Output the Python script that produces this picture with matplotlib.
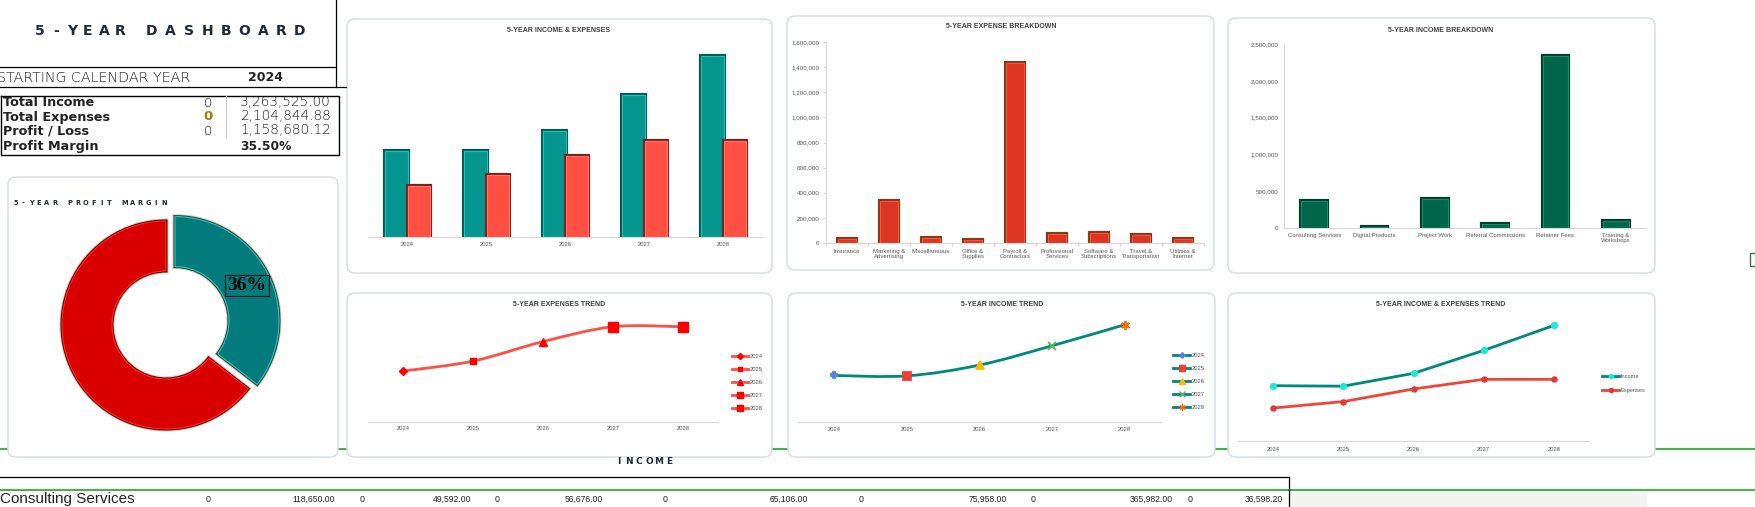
import matplotlib
matplotlib.use('Agg')
import matplotlib.pyplot as plt
import matplotlib.patheffects as pe
from matplotlib.patches import FancyBboxPatch, PathPatch
from matplotlib.lines import Line2D
from matplotlib.path import Path
from matplotlib.ticker import FuncFormatter
import numpy as np

# ---------------- data ----------------
years = ['2024', '2025', '2026', '2027', '2028']
income_by_year = [470000, 466000, 575000, 770000, 982525]
expenses_by_year = [280000, 335000, 442000, 524000, 523844.88]

expense_categories = ['Insurance', 'Marketing &\nAdvertising', 'Miscellaneous', 'Office &\nSupplies',
                      'Payroll &\nContractors', 'Professional\nServices', 'Software &\nSubscriptions',
                      'Travel &\nTransportation', 'Utilities &\nInternet']
expense_totals = [30000, 335000, 38000, 22000, 1435000, 70000, 78000, 64000, 32844.88]

income_categories = ['Consulting Services', 'Digital Products', 'Project Work',
                     'Referral Commissions', 'Retainer Fees', 'Training &\nWorkshops']
income_totals = [365982, 8500, 400000, 55000, 2333043, 101000]

summary_labels = ['Total Income', 'Total Expenses', 'Profit / Loss']
summary_values = [3263525.00, 2104844.88, 1158680.12]
summary_flags = [0, 0, 0]
start_year = 2024

table_row_label = 'Consulting Services'
table_next_label = 'Digital Products'
table_row_values = [118650.00, 49592.00, 56676.00, 65106.00, 75958.00, 365982.00, 36598.20]
table_row_flags = [0, 0, 0, 0, 0, 0, 0]

profit_margin = summary_values[2] / summary_values[0]

# ---------------- figure ----------------
W, H, DPI = 1755, 507, 100
fig = plt.figure(figsize=(W / DPI, H / DPI), dpi=DPI)
fig.patch.set_facecolor('white')

bg = fig.add_axes([0, 0, 1, 1], zorder=0)
bg.set_xlim(0, W)
bg.set_ylim(H, 0)
bg.axis('off')


def px_axes(x0, y0, x1, y1, z=2):
    ax = fig.add_axes([x0 / W, 1 - y1 / H, (x1 - x0) / W, (y1 - y0) / H], zorder=z)
    ax.set_facecolor('none')
    return ax


TITLE_C = '#404040'
TICK_C = '#595959'
AXIS_C = '#D9D9D9'
SANS = ['Liberation Sans', 'DejaVu Sans']

# green sheet lines
bg.plot([0, W], [449, 449], color='#4CAF50', lw=1.5, zorder=0)
bg.plot([0, W], [490, 490], color='#4CAF50', lw=1.5, zorder=0)
# green selection bracket at right edge
bg.plot([1755, 1750, 1750, 1755], [253, 253, 266, 266], color='#2E7D32', lw=1.0)

# panels
panels = [(347, 19, 772, 273), (787, 16, 1214, 270), (1228, 18, 1655, 273),
          (347, 293, 772, 457), (788, 293, 1215, 457), (1228, 293, 1655, 457),
          (8, 177, 338, 457)]
for (x0, y0, x1, y1) in panels:
    bg.add_patch(FancyBboxPatch((x0, y0), x1 - x0, y1 - y0,
                                boxstyle='round,pad=0,rounding_size=8',
                                fc='white', ec='#D5DCE6', lw=1.0, zorder=1))


def spaced(s, x_centers, y, **kw):
    for ch, xc in zip(s, x_centers):
        bg.text(xc, y, ch, ha='center', va='center', **kw)


# ---------------- top-left header ----------------
NAVY = '#1F2937'
part1 = '5-YEAR'
part2 = 'DASHBOARD'
spaced(part1, [40 + i * 16 for i in range(len(part1))], 31,
       fontsize=10, fontweight='bold', color=NAVY, family='DejaVu Sans')
spaced(part2, [152 + i * 18.5 for i in range(len(part2))], 31,
       fontsize=10, fontweight='bold', color=NAVY, family='DejaVu Sans')

bg.plot([336, 336], [0, 87], color='black', lw=0.9)
bg.plot([0, 336], [67, 67], color='black', lw=0.9)
bg.plot([0, 346], [87, 87], color='black', lw=0.9)

clipax = px_axes(0, 67, 192, 87, z=3)
clipax.set_xlim(0, 192)
clipax.set_ylim(87, 67)
clipax.axis('off')
clipax.text(-3, 77.5, 'STARTING CALENDAR YEAR', ha='left', va='center', fontsize=10.3,
            fontweight='light', color='#1A1A1A', family='DejaVu Sans', clip_on=True)
bg.text(266, 77.5, str(start_year), ha='center', va='center', fontsize=9,
        fontweight='bold', color='#222222', family='DejaVu Sans')

# summary box
bg.plot([1, 339, 339, 1, 1], [96, 96, 155, 155, 96], color='black', lw=1.0)
bg.plot([226, 226], [96, 138], color='#CCCCCC', lw=0.8)
row_y = [103, 117, 131]
for lab, val, flag, y, i in zip(summary_labels, summary_values, summary_flags, row_y, range(3)):
    bg.text(3, y, lab, ha='left', va='center', fontsize=9.2, fontweight='bold',
            color='#222222', family='DejaVu Sans')
    if i == 1:
        bg.text(208, y, str(flag), ha='center', va='center', fontsize=9.5, fontweight='bold',
                color='#A87B00', family='DejaVu Sans')
    else:
        bg.text(208, y, str(flag), ha='center', va='center', fontsize=9.5, fontweight='light',
                color='#1A1A1A', family='DejaVu Sans')
    bg.text(331, y - 0.5, f'{val:,.2f}', ha='right', va='center', fontsize=9.8,
            fontweight='light', color='#1A1A1A', family='DejaVu Sans')
bg.text(3, 146.5, 'Profit Margin', ha='left', va='center', fontsize=9.2, fontweight='bold',
        color='#222222', family='DejaVu Sans')
bg.text(266, 146, f'{profit_margin * 100:.2f}%', ha='center', va='center', fontsize=8.8,
        fontweight='bold', color='#222222', family='DejaVu Sans')

# ---------------- donut ----------------
pm_title = '5-YEAR PROFIT MARGIN'
spaced(pm_title, [15.5 + i * 7.8 for i in range(len(pm_title))], 203,
       fontsize=4.8, fontweight='bold', color=NAVY, family='DejaVu Sans')

CX, CY, R, WID, EXPL = 166, 325, 104, 50, 10
dax = px_axes(CX - 125, CY - 125, CX + 125, CY + 125, z=3)
wedges, _ = dax.pie([summary_values[2], summary_values[1]], radius=R, startangle=90,
                    counterclock=False, explode=[EXPL, 0], colors=['#037B7C', '#DB0000'],
                    wedgeprops=dict(width=WID, edgecolor='#38BDBD', linewidth=0.8))
wedges[1].set_edgecolor('#FF2A2A')
wedges[0].set_path_effects([pe.Stroke(linewidth=3.6, foreground='#D8CCB2'),
                            pe.Stroke(linewidth=2.2, foreground='#1E4A40'), pe.Normal()])
wedges[1].set_path_effects([pe.Stroke(linewidth=3.6, foreground='#D8CCB2'),
                            pe.Stroke(linewidth=2.2, foreground='#5A0000'), pe.Normal()])
dax.set_xlim(-125, 125)
dax.set_ylim(-125, 125)
dax.set_aspect('equal')
ang = np.deg2rad(90 - profit_margin * 180)
rl = R - WID / 2 + EXPL + 1
dax.text(rl * np.cos(ang), rl * np.sin(ang), f'{profit_margin * 100:.0f}%',
         ha='center', va='center', fontsize=14, fontweight='bold', color='black',
         family=['Liberation Serif', 'DejaVu Serif'],
         bbox=dict(boxstyle='square,pad=0.12', fc='none', ec='#1A1A1A', lw=0.8))


# ---------------- helpers ----------------
def style_axes(ax, left=False):
    for s in ['top', 'right', 'left']:
        ax.spines[s].set_visible(False)
    ax.spines['bottom'].set_color(AXIS_C)
    ax.spines['bottom'].set_linewidth(0.8)
    if left:
        ax.spines['left'].set_visible(True)
        ax.spines['left'].set_color(AXIS_C)
        ax.spines['left'].set_linewidth(0.8)
    else:
        ax.set_yticks([])
    ax.tick_params(axis='x', length=0, colors=TICK_C, labelsize=4.2)
    for lab in ax.get_xticklabels():
        lab.set_family(SANS)


def bevel(bars, dark, outer=3.0):
    for b in bars:
        b.set_path_effects([pe.Stroke(linewidth=outer, foreground=dark), pe.Normal()])


def smooth_path(xs, ys):
    pts = np.column_stack([xs, ys]).astype(float)
    n = len(pts)
    verts = [pts[0]]
    codes = [Path.MOVETO]
    for i in range(n - 1):
        p0 = pts[i - 1] if i > 0 else pts[i]
        p1, p2 = pts[i], pts[i + 1]
        p3 = pts[i + 2] if i + 2 < n else pts[i + 1]
        verts += [p1 + (p2 - p0) / 6, p2 - (p3 - p1) / 6, p2]
        codes += [Path.CURVE4] * 3
    return Path(verts, codes)


def px_legend(ax, handles, labels, x_left, y_top, fs, handle_px, row_px):
    fpx = fs * DPI / 72
    leg = ax.legend(handles, labels, loc='upper left',
                    bbox_to_anchor=(x_left / W, 1 - y_top / H), bbox_transform=fig.transFigure,
                    frameon=False, fontsize=fs, handlelength=handle_px / fpx,
                    handletextpad=0.25, labelspacing=(row_px - fpx * 1.15) / fpx,
                    borderpad=0, borderaxespad=0)
    for t in leg.get_texts():
        t.set_color(TICK_C)
        t.set_family(SANS)
    return leg


def title(x, y, s):
    bg.text(x, y, s, ha='center', va='center', fontsize=5.0, fontweight='bold',
            color=TITLE_C, family=SANS, zorder=3)


money = FuncFormatter(lambda v, p: f'{v:,.0f}')

# ---------------- chart 1: income & expenses bars ----------------
title(559, 30, '5-YEAR INCOME & EXPENSES')
s1 = 5440
ax1 = px_axes(368, 237 - 1100000 / s1, 763, 237)
ax1.set_ylim(0, 1100000)
ax1.set_xlim(-0.5, 4.5)
xi = np.arange(len(years))
bw = 0.285
b_inc = ax1.bar(xi - bw / 2, income_by_year, bw, color='#05968F', edgecolor='#27C0B8', linewidth=0.8)
b_exp = ax1.bar(xi + bw / 2, expenses_by_year, bw, color='#FF5043', edgecolor='#FF7468', linewidth=0.8)
bevel(b_inc, '#045B56')
bevel(b_exp, '#7A231B')
ax1.set_xticks(xi)
ax1.set_xticklabels(years)
style_axes(ax1)
ax1.tick_params(axis='x', pad=3.5)

# ---------------- chart 2: expense breakdown ----------------
title(1001, 27, '5-YEAR EXPENSE BREAKDOWN')
ax2 = px_axes(826, 42, 1204, 243)
ax2.set_ylim(0, 1600000)
xe = np.arange(len(expense_categories))
ax2.set_xlim(-0.5, len(expense_categories) - 0.5)
b2 = ax2.bar(xe, expense_totals, 0.42, color='#DD3522', edgecolor='#FF5236', linewidth=0.8)
bevel(b2, '#7B3F1D')
ax2.set_xticks(xe)
ax2.set_xticklabels(expense_categories, linespacing=1.05)
ax2.set_xticks(np.arange(len(expense_categories) + 1) - 0.5, minor=True)
ax2.set_yticks(np.arange(0, 1600001, 200000))
ax2.yaxis.set_major_formatter(money)
style_axes(ax2, left=True)
ax2.tick_params(axis='x', pad=4, labelsize=4.3)
ax2.tick_params(axis='x', which='minor', length=2.5, color=AXIS_C, width=0.7)
ax2.tick_params(axis='y', length=2, color=AXIS_C, width=0.7, colors=TICK_C, labelsize=4.5, pad=2.5)
for lab in ax2.get_yticklabels():
    lab.set_family(SANS)

# ---------------- chart 3: income breakdown ----------------
title(1441, 30, '5-YEAR INCOME BREAKDOWN')
ax3 = px_axes(1284, 44, 1646, 228)
ax3.set_ylim(0, 2500000)
xc = np.arange(len(income_categories))
ax3.set_xlim(-0.5, len(income_categories) - 0.5)
b3 = ax3.bar(xc, income_totals, 0.42, color='#00664A', edgecolor='#1E8C6A', linewidth=0.8)
bevel(b3, '#003D2C')
ax3.set_xticks(xc)
ax3.set_xticklabels(income_categories, linespacing=1.05)
ax3.set_yticks(np.arange(0, 2500001, 500000))
ax3.yaxis.set_major_formatter(money)
style_axes(ax3, left=True)
ax3.tick_params(axis='x', pad=3.5, labelsize=4.3)
ax3.tick_params(axis='y', length=0, colors=TICK_C, labelsize=4.5, pad=4)
for lab in ax3.get_yticklabels():
    lab.set_family(SANS)

# ---------------- chart 4: expenses trend ----------------
title(559, 305, '5-YEAR EXPENSES TREND')
s4 = 5500
ax4 = px_axes(368, 422 - 600000 / s4, 718, 422)
ax4.set_ylim(0, 600000)
ax4.set_xlim(-0.5, 4.5)
ax4.add_patch(PathPatch(smooth_path(xi, expenses_by_year), fc='none', ec='#FF4F45', lw=2.0,
                        capstyle='round', zorder=2))
exp_markers = ['D', 's', '^', 's', 's']
exp_msize = [4.5, 4.5, 6, 6.5, 7]
handles4 = []
for i, (m, ms) in enumerate(zip(exp_markers, exp_msize)):
    ax4.plot([xi[i]], [expenses_by_year[i]], marker=m, ms=ms, color='#FF0000',
             mec='#FF0000', linestyle='none', zorder=3, clip_on=False)
    handles4.append(Line2D([], [], color='#FF4F45', lw=2.0, marker=m, ms=ms * 0.7,
                           mfc='#FF0000', mec='#FF0000'))
ax4.set_xticks(xi)
ax4.set_xticklabels(years)
style_axes(ax4)
ax4.tick_params(axis='x', pad=3)
px_legend(ax4, handles4, years, 732, 354, 4.2, 16, 14.6)

# ---------------- chart 5: income trend ----------------
title(1002, 305, '5-YEAR INCOME TREND')
s5 = 10100
ax5 = px_axes(798, 422 - 1200000 / s5, 1161, 422)
ax5.set_ylim(0, 1200000)
ax5.set_xlim(-0.5, 4.5)
ax5.add_patch(PathPatch(smooth_path(xi, income_by_year), fc='none', ec='#00897B', lw=2.0,
                        capstyle='round', zorder=2))
inc_markers = ['P', 's', '^', 'x', (6, 2, 0)]
inc_colors = ['#4A86E8', '#EA4335', '#FBBC04', '#5CB85C', '#FF6D01']
inc_msize = [5, 5.5, 6, 5.5, 6.5]
handles5 = []
for i, (m, c, ms) in enumerate(zip(inc_markers, inc_colors, inc_msize)):
    ax5.plot([xi[i]], [income_by_year[i]], marker=m, ms=ms, color=c, mec=c, mew=1.3,
             linestyle='none', zorder=3, clip_on=False)
    handles5.append(Line2D([], [], color='#00897B', lw=2.0, marker=m, ms=ms * 0.7,
                           mfc=c, mec=c, mew=1.0))
ax5.set_xticks(xi)
ax5.set_xticklabels(years)
style_axes(ax5)
ax5.tick_params(axis='x', pad=3.5)
px_legend(ax5, handles5, years, 1173, 353, 4.2, 17, 14.6)

# ---------------- chart 6: income & expenses trend ----------------
title(1441, 305, '5-YEAR INCOME & EXPENSES TREND')
s6 = 8500
ax6 = px_axes(1238, 441 - 1200000 / s6, 1589, 441)
ax6.set_ylim(0, 1200000)
ax6.set_xlim(-0.5, 4.5)
ax6.plot(xi, income_by_year, color='#00897B', lw=2.0, marker='o', ms=4.2,
         mfc='#1DE9D6', mec='#1DE9D6', zorder=3, clip_on=False)
ax6.plot(xi, expenses_by_year, color='#F44336', lw=2.0, marker='o', ms=3.6,
         mfc='#E53935', mec='#E53935', zorder=3, clip_on=False)
ax6.set_xticks(xi)
ax6.set_xticklabels(years)
style_axes(ax6)
ax6.tick_params(axis='x', pad=4)
h6 = [Line2D([], [], color='#00897B', lw=2.0, marker='o', ms=3, mfc='#1DE9D6', mec='#1DE9D6'),
      Line2D([], [], color='#F44336', lw=2.0, marker='o', ms=3, mfc='#E53935', mec='#E53935')]
px_legend(ax6, h6, ['Income', 'Expenses'], 1602, 374, 4.1, 17, 15.6)

# ---------------- bottom table ----------------
spaced('INCOME', [619 + i * 10 for i in range(6)], 462, fontsize=6.5, fontweight='bold',
       color=NAVY, family='DejaVu Sans')
bg.plot([0, 1289], [477, 477], color='black', lw=0.9, zorder=2)
bg.plot([1289, 1289], [477, 507], color='black', lw=0.9, zorder=2)
bg.fill_between([1290, 1647], [491, 491], [507, 507], color='#F3F3F1', lw=0, zorder=1)
bg.text(0, 499, table_row_label, ha='left', va='center', fontsize=11, color='#222222',
        family=SANS, fontweight='light')
bg.text(0, 514, table_next_label, ha='left', va='center', fontsize=11, color='#222222',
        family=SANS, fontweight='light')
flag_x = [208, 362, 497, 665, 861, 1033, 1190]
val_x = [335, 471, 603, 808, 1007, 1173, 1283]
for f, fx, v, vx in zip(table_row_flags, flag_x, table_row_values, val_x):
    bg.text(fx, 499, str(f), ha='center', va='center', fontsize=6.4, color='#222222', family=SANS)
    bg.text(vx, 499, f'{v:,.2f}', ha='right', va='center', fontsize=6.2, color='#222222',
            family=SANS)

fig.savefig('out.png', dpi=DPI, facecolor='white')
